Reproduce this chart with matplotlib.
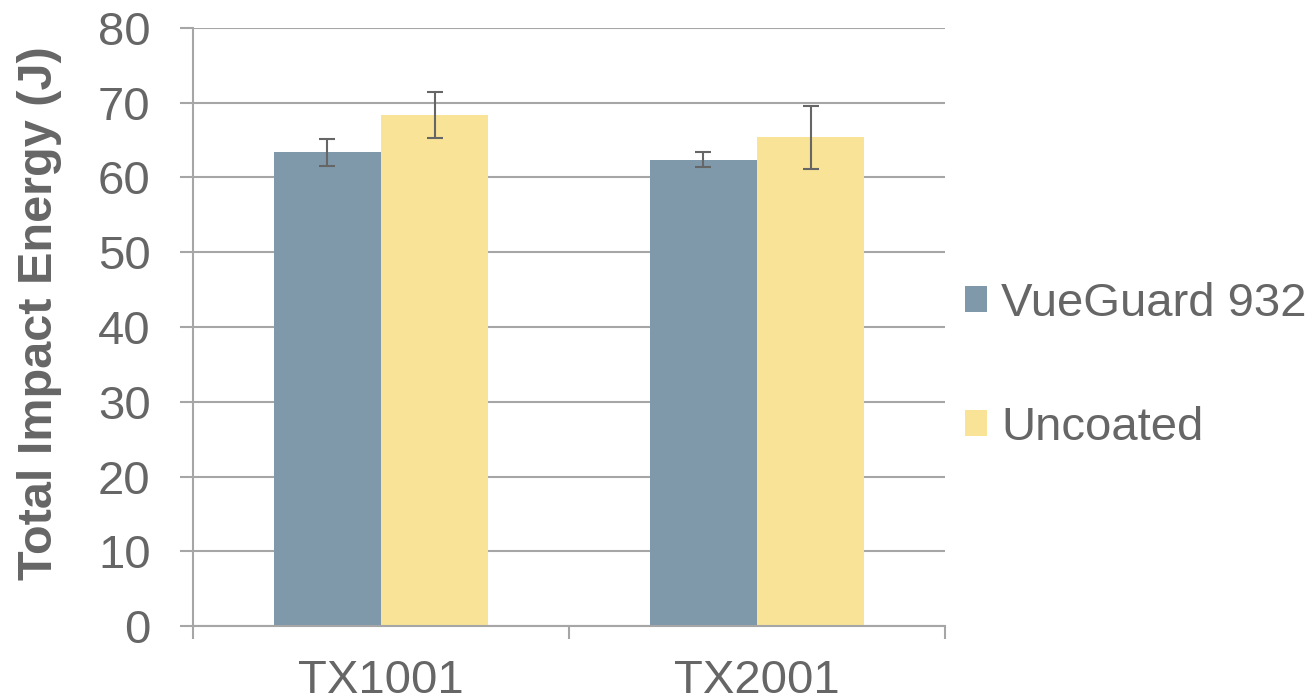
import matplotlib
matplotlib.use("Agg")
import matplotlib.pyplot as plt
from matplotlib.patches import Patch
import numpy as np

categories = ["TX1001", "TX2001"]
series_names = ["VueGuard 932", "Uncoated"]
vueguard = [63.4, 62.4]
vueguard_err = [1.8, 0.95]
uncoated = [68.4, 65.4]
uncoated_err = [3.1, 4.2]
yticks = [0, 10, 20, 30, 40, 50, 60, 70, 80]

c_blue = "#7F99AB"
c_yellow = "#F9E397"
grid_c = "#A6A6A6"
text_c = "#666666"

plt.rcParams['font.family'] = ['Liberation Sans', 'DejaVu Sans']

fig = plt.figure(figsize=(13.16, 7.0), dpi=100)
ax = fig.add_axes([193/1316, 74/700, (945-193)/1316, (626-28)/700])

x = np.arange(len(categories))
w = 0.285
ax.bar(x - w/2, vueguard, w, color=c_blue, zorder=2)
ax.bar(x + w/2, uncoated, w, color=c_yellow, zorder=2)
ax.errorbar(x - w/2, vueguard, yerr=vueguard_err, fmt='none', ecolor='#666666',
            elinewidth=1.5, capsize=6, capthick=1.5, zorder=3)
ax.errorbar(x + w/2, uncoated, yerr=uncoated_err, fmt='none', ecolor='#666666',
            elinewidth=1.5, capsize=6, capthick=1.5, zorder=3)

ax.set_xlim(-0.5, len(categories) - 0.5)
ax.set_ylim(0, 80)
ax.set_yticks(yticks)
ax.yaxis.grid(True, color=grid_c, linewidth=1.5, zorder=0)
ax.set_axisbelow(True)

for s in ["top", "right"]:
    ax.spines[s].set_visible(False)
for s in ["left", "bottom"]:
    ax.spines[s].set_color(grid_c)
    ax.spines[s].set_linewidth(1.5)

ax.set_xticks(x)
ax.set_xticklabels(categories)
ax.set_xticks(np.arange(len(categories) + 1) - 0.5, minor=True)
ax.tick_params(axis='x', which='major', length=0, pad=24, labelsize=34, labelcolor=text_c)
ax.tick_params(axis='x', which='minor', length=9.5, width=1.5, color=grid_c, direction='out')
ax.tick_params(axis='y', which='major', length=9.5, width=1.5, color=grid_c, pad=21,
               labelsize=34, labelcolor=text_c)

ax.set_ylabel("Total Impact Energy (J)", fontsize=35, fontweight='bold', color=text_c)
ax.yaxis.set_label_coords(-0.174, 0.524)

handles = [Patch(facecolor=c_blue), Patch(facecolor=c_yellow)]
fig.legend(handles, series_names, loc='center left', bbox_to_anchor=(965/1316, 0.477),
           frameon=False, fontsize=34, labelcolor=text_c, handlelength=0.47, handleheight=0.47,
           handletextpad=0.3, labelspacing=1.7, borderaxespad=0, borderpad=0)

fig.savefig("out.png", dpi=100)
